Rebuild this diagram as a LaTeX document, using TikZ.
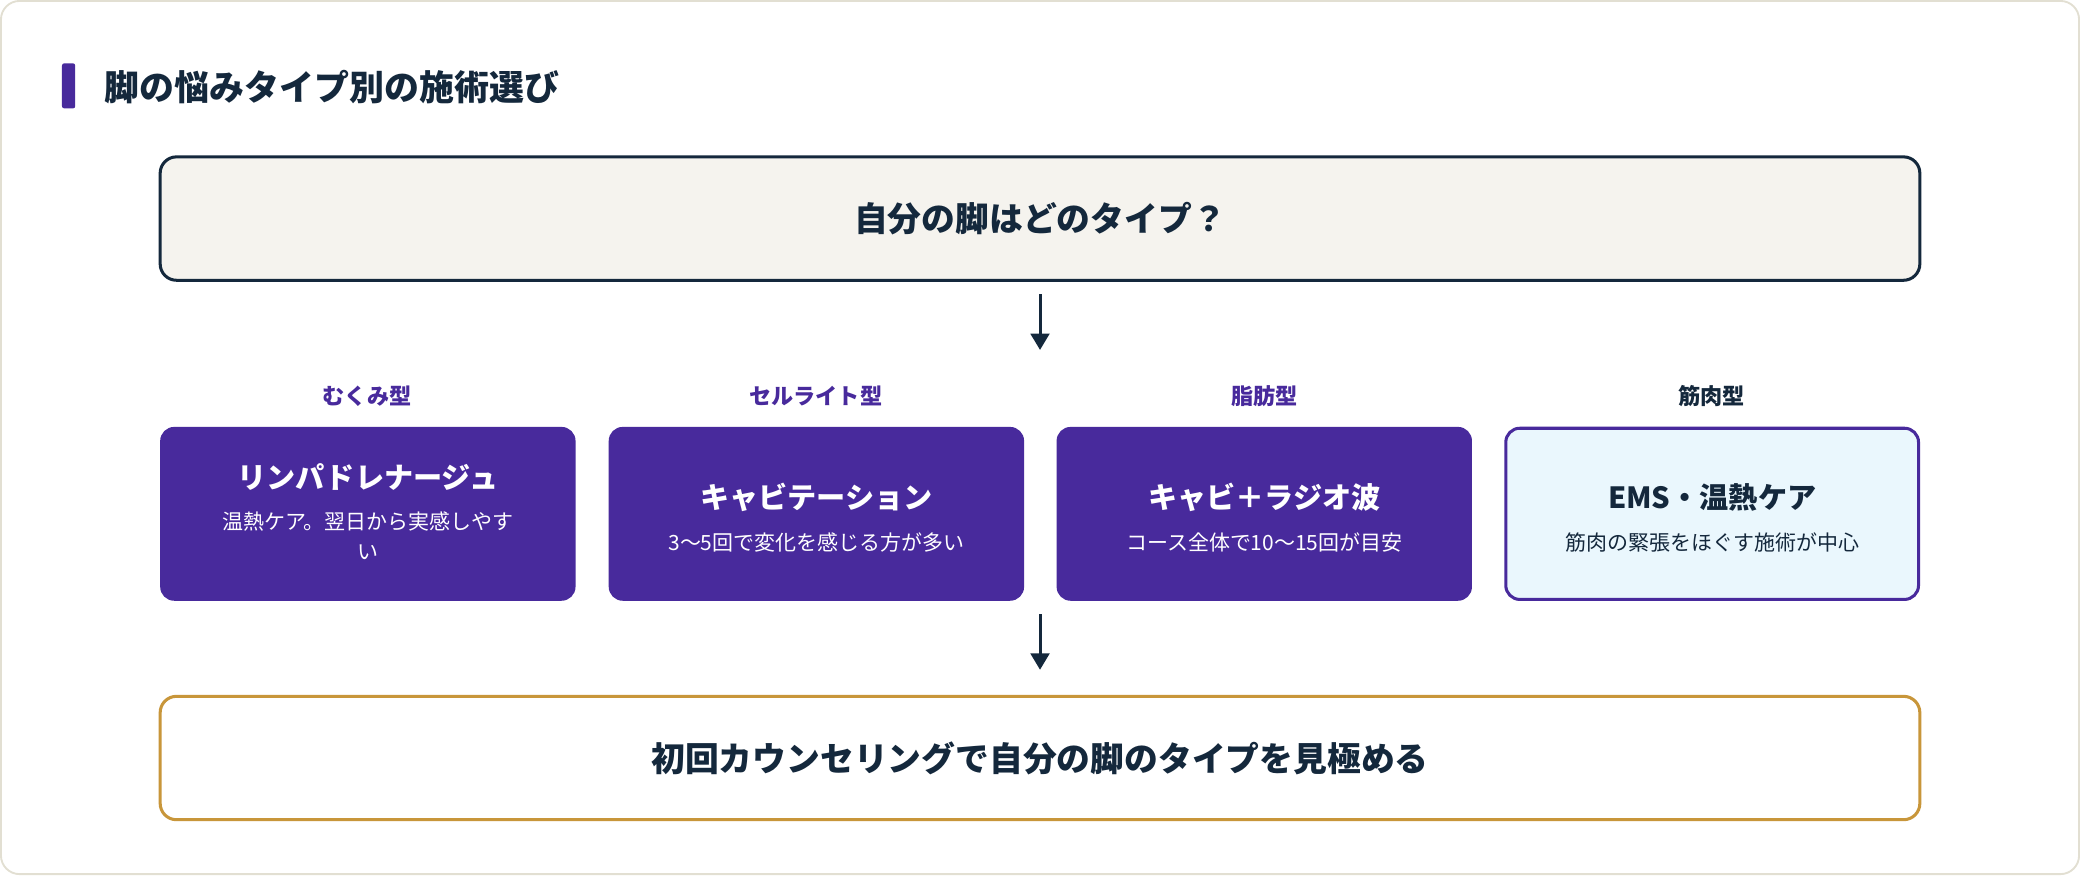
\documentclass[tikz,border=0pt]{standalone}
\usepackage{fontspec}
\setmainfont{Noto Sans CJK JP}
\newfontfamily\cjkb{Noto Sans CJK JP}[BoldFont={* Bold}]
\usetikzlibrary{arrows.meta}
\definecolor{navy}{HTML}{14283C}
\definecolor{purp}{HTML}{482A9C}
\definecolor{beige}{HTML}{F5F3EE}
\definecolor{gold}{HTML}{C8963A}
\definecolor{lblue}{HTML}{EAF7FD}
\definecolor{frame}{HTML}{E2DFD2}
\begin{document}
\begin{tikzpicture}[x=0.02cm,y=-0.02cm,
  big/.style={font=\fontsize{14.5}{17}\selectfont\bfseries,text=navy},
  lab/.style={font=\fontsize{9.5}{11}\selectfont\bfseries},
  card/.style={draw=none,fill=purp,rounded corners=6pt,minimum width=313*0.02cm,minimum height=131*0.02cm,text=white,align=center},
  arr/.style={-{Triangle[length=7pt,width=8pt]},line width=1.3pt,draw=navy}]
\path[use as bounding box,draw=frame,line width=0.8pt,fill=white,rounded corners=8pt] (1,1) rectangle (1567,659);
\fill[purp,rounded corners=1pt] (47,48) rectangle (57,82);
\node[anchor=west,big,font=\fontsize{15}{17}\selectfont\bfseries] (title) at (73,66) {脚の悩みタイプ別の施術選び};
\node[draw=navy,line width=1.3pt,fill=beige,rounded corners=7pt,minimum width=1326*0.02cm,minimum height=93*0.02cm,big] (q) at (784,165) {自分の脚はどのタイプ？};
\coordinate (a1) at (784,222); \coordinate (a2) at (784,264);
\draw[arr] (a1) -- (a2);
\node[lab,text=purp] (l1) at (277,299) {むくみ型};
\node[lab,text=purp] (l2) at (615,299) {セルライト型};
\node[lab,text=purp] (l3) at (953,299) {脂肪型};
\node[lab,text=navy] (l4) at (1290,299) {筋肉型};
\node[card] (c1) at (277.5,387.5) {};
\node[card] (c2) at (615.5,387.5) {};
\node[card] (c3) at (953,387.5) {};
\node[card,fill=lblue,draw=purp,line width=1.3pt,minimum width=311*0.02cm,minimum height=129*0.02cm] (c4) at (1290.5,387.5) {};
\tikzset{ct/.style={font=\fontsize{12.5}{15}\selectfont\bfseries,text=white},cs/.style={font=\fontsize{9}{13}\selectfont,text=white,align=center}}
\node[ct] at (277.5,360) {リンパドレナージュ};
\node[cs] at (277.5,404) {温熱ケア。翌日から実感しやす\\い};
\node[ct] at (615.5,375) {キャビテーション};
\node[cs] at (615.5,409) {3〜5回で変化を感じる方が多い};
\node[ct] at (953,375) {キャビ＋ラジオ波};
\node[cs] at (953,409) {コース全体で10〜15回が目安};
\node[ct,text=navy] at (1290.5,375) {EMS・温熱ケア};
\node[cs,text=navy] at (1290.5,409) {筋肉の緊張をほぐす施術が中心};
\coordinate (b1) at (784,463); \coordinate (b2) at (784,505);
\draw[arr] (b1) -- (b2);
\node[draw=gold,line width=1.3pt,fill=white,rounded corners=7pt,minimum width=1326*0.02cm,minimum height=93*0.02cm,big] (r) at (784,571.5) {初回カウンセリングで自分の脚のタイプを見極める};
\end{tikzpicture}
\end{document}
